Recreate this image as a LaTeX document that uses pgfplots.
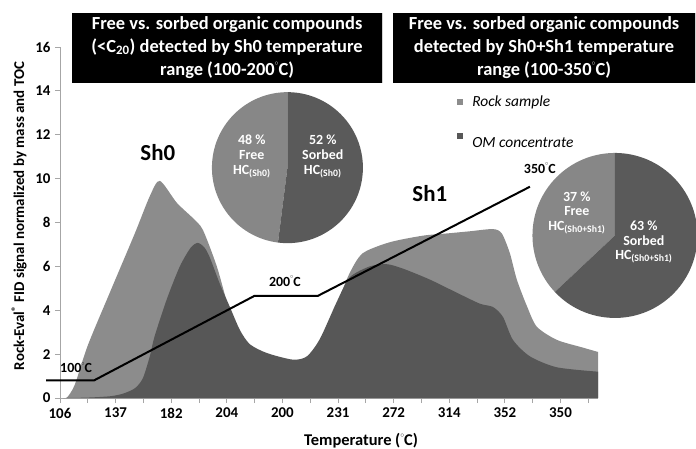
\documentclass[border=0pt]{standalone}
\usepackage{fontspec}
\setmainfont{Carlito}
\usepackage{pgfplots}
\pgfplotsset{compat=1.18}
\usepackage{pgfplotstable}
\definecolor{rockc}{HTML}{8C8C8C}
\definecolor{omc}{HTML}{575757}
\definecolor{pielight}{HTML}{878787}
\definecolor{piedark}{HTML}{5A5A5A}
\definecolor{axc}{HTML}{A6A6A6}
\newcommand{\dg}{\raisebox{1.05ex}{\scalebox{0.45}{$\circ$}}}

\pgfplotstableread{
x y
0.10 0
0.25 0.02
0.53 0.6
1.00 2.4
1.79 4.8
2.69 7.5
3.23 9.2
3.59 9.9
4.20 8.9
4.78 8.2
5.14 7.66
5.64 6.0
6.00 4.4
6.36 3.1
6.83 2.35
7.44 1.95
8.37 1.65
8.88 1.8
9.35 2.6
9.96 4.3
10.42 5.7
10.89 6.6
11.86 7.1
13.05 7.4
13.91 7.5
14.74 7.6
15.57 7.7
15.89 7.5
16.18 6.6
16.43 5.4
16.79 4.2
17.15 3.25
17.87 2.65
18.80 2.3
19.35 2.1
}\rock

\pgfplotstableread{
x y
0.20 0
1.00 0.02
1.80 0.08
2.27 0.2
2.70 0.45
2.98 0.9
3.23 1.9
3.40 2.8
3.84 4.5
4.31 6.0
4.70 6.85
4.96 7.07
5.20 6.85
5.39 6.4
5.75 5.2
6.11 4.15
6.47 3.1
6.83 2.45
7.44 2.05
8.37 1.75
8.88 1.9
9.35 2.7
9.96 4.4
10.42 5.5
11.14 6.0
11.75 6.1
12.33 5.9
13.30 5.4
14.27 4.8
15.10 4.3
15.57 4.15
15.93 3.7
16.29 2.65
16.90 1.9
17.87 1.4
19.35 1.2
}\om

\pgfplotstableread{
x y
-0.50 0.8
1.22 0.8
7.00 4.66
9.28 4.66
16.90 9.63
}\temp

\begin{document}
\begin{tikzpicture}
\path[use as bounding box] (0,0) rectangle (696bp,-449bp);
\begin{axis}[
  at={(60bp,-398bp)}, anchor=south west,
  scale only axis, width=538bp, height=351bp,
  xmin=0, xmax=19.35, ymin=0, ymax=16,
  clip=false,
  axis x line*=bottom, axis y line*=left,
  axis line style={-, draw=axc, line width=0.8bp},
  tick style={draw=axc, line width=0.8bp},
  tick align=outside, major tick length=5bp,
  xtick={0,...,19},
  xticklabels={106,{},137,{},182,{},204,{},200,{},231,{},272,{},314,{},352,{},350,{}},
  ytick={0,2,...,16},
  /pgf/number format/assume math mode=true,
  ticklabel style={font=\fontsize{15}{15}\bfseries\selectfont},
  xticklabel style={yshift=-1.5bp},
  yticklabel style={xshift=-1bp},
]
\addplot[fill=rockc, draw=none, smooth, tension=0.45] table {\rock} \closedcycle;
\addplot[fill=omc, draw=none, smooth, tension=0.45] table {\om} \closedcycle;
\addplot[black, line width=2bp, line join=miter] table {\temp};

% temperature labels
\node[font=\fontsize{14}{14}\bfseries\selectfont] at (axis cs:0.58,1.37) {100\dg C};
\node[font=\fontsize{14}{14}\bfseries\selectfont] at (axis cs:8.09,5.33) {200\dg C};
\node[font=\fontsize{14}{14}\bfseries\selectfont] at (axis cs:17.26,10.48) {350\dg C};
\node[font=\fontsize{23}{24}\bfseries\selectfont] at (axis cs:3.52,11.2) {Sh0};
\node[font=\fontsize{23}{24}\bfseries\selectfont] at (axis cs:13.3,9.3) {Sh1};

% pie 1
\fill[pielight] (axis cs:8.18,10.5) -- ++(90:75.5bp) arc[start angle=90, delta angle=172.8, radius=75.5bp] -- cycle;
\fill[piedark] (axis cs:8.18,10.5) -- ++(262.8:75.5bp) arc[start angle=262.8, delta angle=187.2, radius=75.5bp] -- cycle;
\node[white, align=center, font=\fontsize{14}{15}\bfseries\selectfont] at (axis cs:6.9,11.0) {48 \%\\Free\\HC\textsubscript{(Sh0)}};
\node[white, align=center, font=\fontsize{14}{15}\bfseries\selectfont] at (axis cs:9.45,11.0) {52 \%\\Sorbed\\HC\textsubscript{(Sh0)}};

% pie 2
\fill[pielight] (axis cs:19.96,7.41) -- ++(90:82.5bp) arc[start angle=90, delta angle=133.2, radius=82.5bp] -- cycle;
\fill[piedark] (axis cs:19.96,7.41) -- ++(223.2:82.5bp) arc[start angle=223.2, delta angle=226.8, radius=82.5bp] -- cycle;
\node[white, align=center, font=\fontsize{14}{14.5}\bfseries\selectfont] at (axis cs:18.59,8.43) {37 \%\\Free\\HC\textsubscript{(Sh0+Sh1)}};
\node[white, align=center, font=\fontsize{14}{14.5}\bfseries\selectfont] at (axis cs:21.0,7.1) {63 \%\\Sorbed\\HC\textsubscript{(Sh0+Sh1)}};

% legend
\fill[rockc] (axis cs:14.39,13.49) ++(-2.7bp,-2.7bp) rectangle ++(5.4bp,5.4bp);
\node[anchor=base west, font=\fontsize{15.5}{16}\itshape\selectfont, inner sep=0pt] at (axis cs:14.82,13.31) {Rock sample};
\fill[omc] (axis cs:14.39,11.94) ++(-2.7bp,-2.7bp) rectangle ++(5.4bp,5.4bp);
\node[anchor=base west, font=\fontsize{15.5}{16}\itshape\selectfont, inner sep=0pt] at (axis cs:14.82,11.44) {OM concentrate};

% title boxes
\draw[gray!35, line width=1.2bp] (axis cs:0.43,17.56) ++(1bp,-1bp) rectangle (axis cs:11.58,14.37);
\fill[black] (axis cs:0.43,17.56) rectangle (axis cs:11.58,14.37);
\node[white, align=center, font=\fontsize{18.5}{23}\bfseries\selectfont] at (axis cs:6.01,15.98) {Free vs. sorbed organic compounds\\(<C\textsubscript{20}) detected by Sh0 temperature\\range (100-200\dg C)};
\draw[gray!35, line width=1.2bp] (axis cs:11.98,17.56) ++(1bp,-1bp) rectangle (axis cs:22.84,14.37);
\fill[black] (axis cs:11.98,17.56) rectangle (axis cs:22.84,14.37);
\node[white, align=center, font=\fontsize{18.5}{23}\bfseries\selectfont] at (axis cs:17.41,15.98) {Free vs. sorbed organic compounds\\detected by Sh0+Sh1 temperature\\range (100-350\dg C)};

% axis labels
\node[rotate=90, font=\fontsize{15}{15}\bfseries\selectfont] at (axis cs:-1.47,8.3) {Rock-Eval\textsuperscript{\textregistered} FID signal normalized by mass and TOC};
\node[font=\fontsize{16.5}{17}\bfseries\selectfont] at (axis cs:10.83,-1.96) {Temperature (\dg C)};
\end{axis}
\end{tikzpicture}
\end{document}
